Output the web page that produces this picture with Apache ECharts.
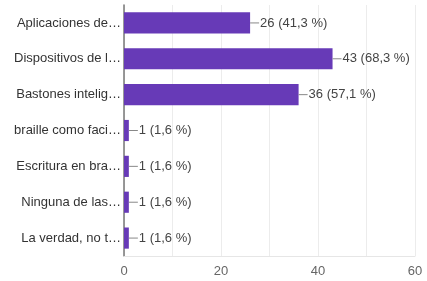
<!DOCTYPE html>
<html>
<head>
<meta charset="utf-8">
<script src="https://cdn.jsdelivr.net/npm/echarts@6/dist/echarts.min.js"></script>
<style>
html, body { margin: 0; padding: 0; background: #fff; }
#chart { width: 427px; height: 281px; }
</style>
</head>
<body>
<div id="chart"></div>
<script>
// answers, top to bottom as drawn
var categories = [
	'Aplicaciones de…',
	'Dispositivos de l…',
	'Bastones intelig…',
	'braille como faci…',
	'Escritura en bra…',
	'Ninguna de las…',
	'La verdad, no t…'
];
var counts = [26, 43, 36, 1, 1, 1, 1];
var percents = ['41,3', '68,3', '57,1', '1,6', '1,6', '1,6', '1,6'];
var xTicks = [0, 20, 40, 60];

var font = '"Liberation Sans", Arial, sans-serif';
var chart = echarts.init(document.getElementById('chart'));

var option = {
	animation: false,
	grid: {
		left: 124,
		right: 12,
		top: 5,
		bottom: 25
	},
	xAxis: {
		type: 'value',
		min: 0,
		max: 60,
		interval: 10,
		axisLine: {
			show: true,
			lineStyle: { color: '#e6e6e6', width: 1 }
		},
		axisTick: { show: false },
		splitLine: {
			lineStyle: { color: '#ececec', width: 1 }
		},
		axisLabel: {
			color: '#666',
			fontFamily: font,
			fontSize: 13,
			margin: 9,
			formatter: function (val) {
				return xTicks.indexOf(val) >= 0 ? String(val) : '';
			}
		}
	},
	yAxis: {
		type: 'category',
		inverse: true,
		data: categories,
		axisLine: {
			show: true,
			lineStyle: { color: '#777', width: 1.5 }
		},
		axisTick: { show: false },
		axisLabel: {
			color: '#333',
			fontFamily: font,
			fontSize: 13,
			margin: 3
		}
	},
	series: [{
		type: 'bar',
		data: counts,
		barCategoryGap: '41%',
		itemStyle: { color: '#673ab7' },
		label: {
			show: true,
			position: 'right',
			distance: 0,
			color: '#444',
			fontFamily: font,
			fontSize: 13,
			formatter: function (p) {
				return '{ln| }{t|' + p.value + ' (' + percents[p.dataIndex] + ' %)}';
			},
			rich: {
				ln: { width: 9, height: 1, backgroundColor: '#888' },
				t: { color: '#444', fontFamily: font, fontSize: 13, padding: [0, 0, 0, 1] }
			}
		}
	}]
};

chart.setOption(option);
</script>
</body>
</html>
